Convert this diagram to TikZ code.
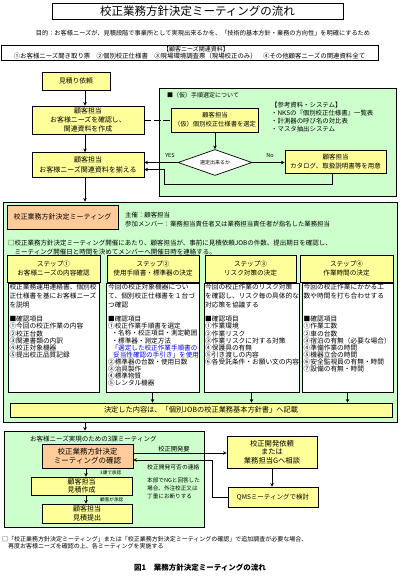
\documentclass[tikz,border=0pt]{standalone}
\usepackage{fontspec}
\setmainfont{Noto Sans CJK JP}
\usetikzlibrary{arrows.meta,shapes.geometric}
\definecolor{yel}{HTML}{FFFF99}
\definecolor{grn}{HTML}{CCFFCC}
\definecolor{org}{HTML}{FFCC99}
\definecolor{bl}{HTML}{0000FF}
\newcommand{\fsz}[2]{\fontsize{#1}{#2}\selectfont}
\begin{document}
\begin{tikzpicture}[x=1pt,y=-1pt,
 bx/.style={draw,line width=0.7pt,inner sep=0pt,align=center},
 ybx/.style={bx,fill=yel},
 obx/.style={bx,fill=org},
 gbx/.style={draw,line width=0.8pt,fill=grn,inner sep=0pt},
 wbx/.style={draw,line width=0.7pt,fill=white,inner sep=0pt},
 txt/.style={inner sep=0pt,align=left,anchor=north west},
 lbl/.style={inner sep=0pt},
 arr/.style={line width=0.6pt,-{Stealth[length=3.6pt,width=3.6pt]}},
 ln/.style={line width=0.6pt}]
\useasboundingbox (0,0) rectangle (401,580);
\fill[white] (0,0) rectangle (401,580);

% header
\node[bx,line width=0.9pt,minimum width=291pt,minimum height=16pt,font=\fsz{11.5}{12}] (title) at (197.5,11) {校正業務方針決定ミーティングの流れ};
\node[lbl,font=\fsz{6.2}{7}] (purpose) at (203,33) {目的：お客様ニーズが、見積段階で事業所として実現出来るかを、「技術的基本方針・業務の方向性」を明確にするため};
\node[bx,minimum width=377pt,minimum height=15pt] (res) at (189.5,52.5) {};
\node[lbl,font=\fsz{6}{6.6}] (rest1) at (196,49.3) {【顧客ニーズ関連資料】};
\node[lbl,font=\fsz{6.4}{6.6}] (rest2) at (189.5,55.8) {①お客様ニーズ聞き取り票　②個別校正仕様書　③現場環境調査票（現場校正のみ）　④その他顧客ニーズの関連資料全て};

% upper flow
\coordinate (col) at (85,0);
\node[ybx,minimum width=68pt,minimum height=18pt,font=\fsz{6.8}{8}] (irai) at (76,81) {見積り依頼};
\node[ybx,minimum width=112pt,minimum height=28pt,font=\fsz{6.9}{8.8}] (kaku) at (88,120) {顧客担当\\お客様ニーズを確認し、\\関連資料を作成};
\node[ybx,minimum width=112pt,minimum height=25pt,font=\fsz{7}{10}] (soro) at (88,165) {顧客担当\\お客様ニーズ関連資料を揃える};

\node[gbx,minimum width=237pt,minimum height=108pt] (kari) at (277.5,142) {};
\node[txt,font=\fsz{6}{7}] (karit) at (167,92) {■（仮）手順選定について};
\node[txt,font=\fsz{6.4}{7.9}] (sanko) at (271,101.8) {【参考資料・システム】\\・NKSの『個別校正仕様書』一覧表\\・計測器の呼び名の対比表\\・マスタ抽出システム};
\node[ybx,minimum width=87pt,minimum height=24pt,font=\fsz{6.3}{8.7}] (ksel) at (215,120) {顧客担当\\（仮）個別校正仕様書を選定};
\node[diamond,aspect=2.85,draw,line width=0.7pt,fill=white,minimum width=74pt,minimum height=26pt,inner sep=0pt,font=\fsz{5}{6}] (dia) at (215,162.5) {選定出来るか};
\node[ybx,minimum width=101pt,minimum height=23pt,font=\fsz{6.5}{9}] (nobx) at (335.5,161.5) {顧客担当\\カタログ、取扱説明書等を用意};

\draw[ln,dash pattern=on 7pt off 2.5pt] (kaku.east) -- (ksel.west);
\draw[arr] (col |- irai.south) -- (col |- kaku.north);
\draw[arr] (col |- kaku.south) -- (col |- soro.north);
\draw[arr] (ksel.south) -- (dia.north);
\draw[arr] (dia.west) -- (dia.west -| soro.east);
\draw[arr] (dia.east) -- (dia.east -| nobx.west);
\coordinate (ret) at (164,184);
\draw[arr] ([xshift=-3.5pt]nobx.south) |- (ret) |- ([yshift=-4.5pt]soro.east);
\node[lbl,font=\fsz{5.5}{6}] (yes) at (170,155) {YES};
\node[lbl,font=\fsz{5.5}{6}] (no) at (270,156) {No};

% big meeting box
\node[gbx,minimum width=394pt,minimum height=220pt] (big) at (200,312) {};
\draw[arr] (col |- soro.south) -- (col |- big.north);
\node[obx,minimum width=111pt,minimum height=24pt,font=\fsz{7}{8}] (mtg) at (62.5,217) {校正業務方針決定ミーティング};
\node[txt,font=\fsz{6.4}{9}] (host) at (125,211.8) {主催：顧客担当\\参加メンバー：業務担当責任者又は業務担当責任者が指名した業務担当};
\node[txt,font=\fsz{6.5}{9}] (note) at (8,239.7) {□校正業務方針決定ミーティング開催にあたり、顧客担当が、事前に見積依頼JOBの件数、提出期日を確認し、\\　ミーティング開催日と時間を決めてメンバーへ開催日時を連絡する。};

\node[ybx,minimum width=93pt,minimum height=27pt,font=\fsz{6.6}{9}] (s1h) at (53.5,268.5) {ステップ①\\お客様ニーズの内容確認};
\node[ybx,minimum width=92pt,minimum height=27pt,font=\fsz{6.6}{9}] (s2h) at (153,268.5) {ステップ②\\使用手順書・標準器の決定};
\node[ybx,minimum width=91pt,minimum height=27pt,font=\fsz{6.6}{9}] (s3h) at (250.5,268.5) {ステップ③\\リスク対策の決定};
\node[ybx,minimum width=93pt,minimum height=27pt,font=\fsz{6.6}{9}] (s4h) at (346.5,268.5) {ステップ④\\作業時間の決定};

\node[wbx,minimum width=91pt,minimum height=108.5pt] (s1b) at (53.5,337.75) {};
\node[wbx,minimum width=93pt,minimum height=108.5pt] (s2b) at (152.5,337.75) {};
\node[wbx,minimum width=95pt,minimum height=108.5pt] (s3b) at (251.5,337.75) {};
\node[wbx,minimum width=91pt,minimum height=108.5pt] (s4b) at (347.5,337.75) {};

\node[txt,font=\fsz{6.7}{8.6}] (s1p) at (9.3,284) {校正業務運用連絡書、個別校\\正仕様書を基にお客様ニーズ\\を説明};
\node[txt,font=\fsz{6.7}{7.1}] (s1i) at (9.3,316) {■確認項目\\①今回の校正作業の内容\\②校正台数\\③関連書類の内訳\\④校正対象機器\\⑤提出校正品質記録};
\node[txt,font=\fsz{6.7}{8.6}] (s2p) at (108,284) {今回の校正対象機器につい\\て、個別校正仕様書を１台づ\\つ確認};
\node[txt,font=\fsz{6.6}{7.1}] (s2i) at (108,316) {■確認項目\\①校正作業手順書を選定\\\hspace*{3.4pt}・名称・校正項目・測定範囲\\\hspace*{3.4pt}・標準器・測定方法\\\hspace*{3.4pt}\textcolor{bl}{「選定した校正作業手順書の}\\\hspace*{5pt}\textcolor{bl}{妥当性確認の手引き」を使用}\\②標準器の台数・使用日数\\③治具製作\\④標準物質\\⑤レンタル機器};
\node[txt,font=\fsz{6.7}{8.6}] (s3p) at (205,284) {今回の校正作業のリスク対策\\を確認し、リスク毎の具体的な\\対応策を協議する};
\node[txt,font=\fsz{6.7}{7.1}] (s3i) at (205,316) {■確認項目\\①作業環境\\②作業リスク\\③作業リスクに対する対策\\④保護具の有無\\⑤引き渡しの内容\\⑥各受託条件・お願い文の内容};
\node[txt,font=\fsz{6.7}{8.6}] (s4p) at (303.5,284) {今回の校正作業にかかる工\\数や時間を打ち合わせする};
\node[txt,font=\fsz{6.7}{7.1}] (s4i) at (303.5,316) {■確認項目\\①作業工数\\②車の台数\\③宿泊の有無（必要な場合）\\④準備作業の時間\\⑤機器立会の時間\\⑥安全監視員の有無・時間\\⑦設備の有無・時間};

\node[ybx,minimum width=382pt,minimum height=14pt,font=\fsz{7.2}{8}] (dec) at (201,410) {決定した内容は、「個別JOBの校正業務基本方針書」へ記載};
\draw[arr] (s2b.south) -- (s2b.south |- dec.north);
\draw[arr] (s3b.south) -- (s3b.south |- dec.north);
\draw[arr] (s4b.south) -- (s4b.south |- dec.north);

% lower box
\node[gbx,minimum width=200pt,minimum height=96pt] (low) at (104,479) {};
\draw[arr] (col |- big.south) -- (col |- low.north);
\node[txt,font=\fsz{6.5}{7}] (lowt) at (30,435.8) {お客様ニーズ実現のための3課ミーティング};
\node[obx,minimum width=91pt,minimum height=24pt,font=\fsz{7.5}{9.5}] (conf) at (87.5,456) {校正業務方針決定\\ミーティングの確認};
\node[ybx,minimum width=90pt,minimum height=32pt,font=\fsz{7.3}{8.5}] (dev) at (272,452) {校正開発依頼\\または\\業務担当Gへ相談};
\node[ybx,minimum width=90pt,minimum height=20pt,font=\fsz{6.5}{8}] (qms) at (273,497) {QMSミーティングで検討};
\node[ybx,minimum width=101pt,minimum height=18pt,font=\fsz{7}{8.5}] (mits) at (81.5,486) {顧客担当\\見積作成};
\node[ybx,minimum width=90pt,minimum height=19pt,font=\fsz{7}{8.5}] (teis) at (87,513.5) {顧客担当\\見積提出};

\coordinate (col2) at (86,0);
\draw[arr] (col2 |- conf.south) -- (col2 |- mits.north);
\draw[arr] (col2 |- mits.south) -- (col2 |- teis.north);
\draw[arr] ([yshift=3pt]conf.east) -- ([yshift=3pt]conf.east -| dev.west);
\coordinate (turn) at (212,460);
\draw[arr] (qms.west) -| (turn) -- ([yshift=-4pt]conf.east);
\draw[arr] (dev.south) -- (dev.south |- qms.north);

\node[lbl,anchor=south,font=\fsz{6.3}{7}] (l1) at (174,452) {校正開発要};
\node[txt,font=\fsz{5.8}{7}] (l2) at (147,464.1) {校正開発可否の連絡};
\node[txt,font=\fsz{4.6}{5}] (l3) at (100,470.7) {3課で承認};
\node[txt,font=\fsz{5.6}{8}] (l4) at (147,477.2) {本部でNGと回答した\\場合、外注校正又は\\丁重にお断りする};
\node[txt,font=\fsz{4.6}{5}] (l5) at (100,497) {顧客が承認};

% footnote
\node[txt,font=\fsz{6}{7}] (foot) at (2,536) {□「校正業務方針決定ミーティング」または「校正業務方針決定ミーティングの確認」で追加調査が必要な場合、\\　再度お客様ニーズを確認の上、各ミーティングを実施する};
\node[lbl,font=\fsz{7.5}{8}\bfseries] (cap) at (200,568) {図1　業務方針決定ミーティングの流れ};
\end{tikzpicture}
\end{document}
